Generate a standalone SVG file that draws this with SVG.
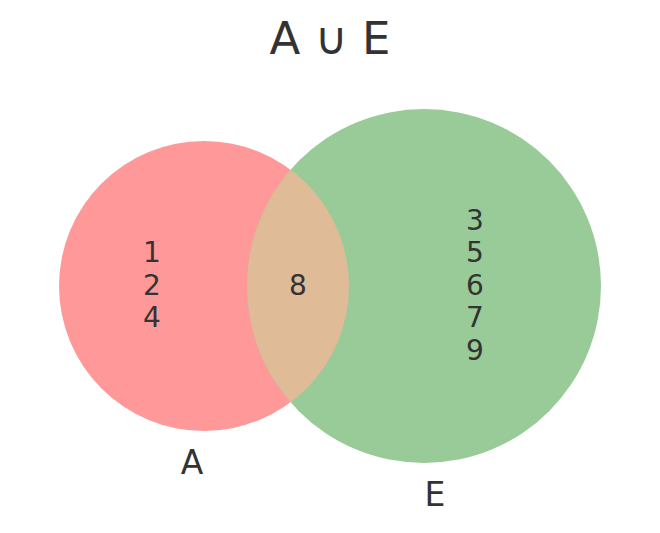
<svg xmlns="http://www.w3.org/2000/svg" width="660" height="533" viewBox="0 0 660 533">
<style>
text{font-family:"DejaVu Sans","Liberation Sans",sans-serif;fill:#333333;text-anchor:middle}
.n{font-size:28px}
.l{font-size:33px}
.t{font-size:45px}
</style>
<defs>
<clipPath id="clipA"><circle cx="204" cy="286" r="145"/></clipPath>
</defs>
<rect width="660" height="533" fill="#ffffff"/>
<g id="setA"><circle cx="204" cy="286" r="145" fill="#ff9999"/></g>
<g id="setE"><circle cx="424" cy="286" r="177" fill="#99cb99"/></g>
<g id="intersection"><circle cx="424" cy="286" r="177" fill="#dfbb97" clip-path="url(#clipA)"/></g>
<g id="connectors"></g>
<g id="labels">
<text class="t" x="330" y="54">A ∪ E</text>
<text class="n" x="152" y="262">1</text>
<text class="n" x="152" y="295">2</text>
<text class="n" x="152" y="327">4</text>
<text class="n" x="298" y="295">8</text>
<text class="n" x="475" y="230">3</text>
<text class="n" x="475" y="262">5</text>
<text class="n" x="475" y="295">6</text>
<text class="n" x="475" y="327">7</text>
<text class="n" x="475" y="360">9</text>
<text class="l" x="192" y="474">A</text>
<text class="l" x="435" y="506">E</text>
</g>
</svg>
